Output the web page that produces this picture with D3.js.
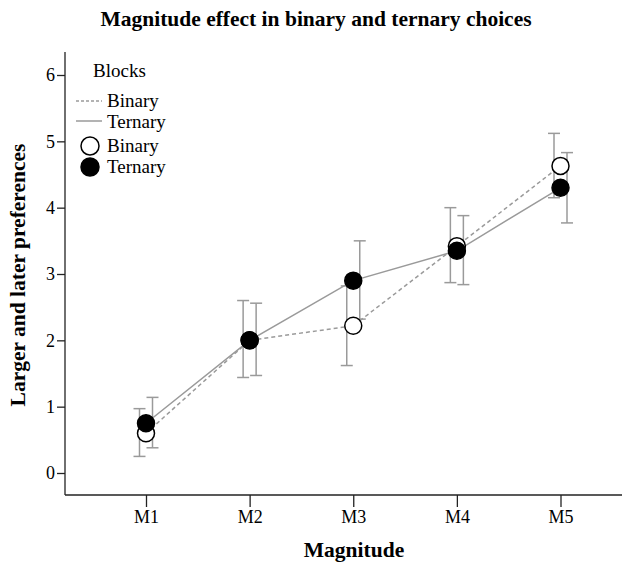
<!DOCTYPE html>
<html>
<head>
<meta charset="utf-8">
<script src="https://cdn.jsdelivr.net/npm/d3@7"></script>
<style>
  body { margin: 0; background: #fff; }
  svg { display: block; font-family: "Liberation Serif", "DejaVu Serif", serif; }
</style>
</head>
<body>
<div id="chart"></div>
<script>
// values
var categories = ['M1', 'M2', 'M3', 'M4', 'M5'];
var binaryMean = [0.60, 2.00, 2.22, 3.42, 4.63];
var binaryLow = [0.25, 1.44, 1.62, 2.87, 4.15];
var binaryHigh = [0.97, 2.60, 2.82, 4.00, 5.12];
var ternaryMean = [0.75, 2.00, 2.90, 3.35, 4.30];
var ternaryLow = [0.38, 1.47, 2.32, 2.84, 3.77];
var ternaryHigh = [1.14, 2.56, 3.50, 3.88, 4.83];
var yTicks = [0, 1, 2, 3, 4, 5, 6];

var W = 635, H = 565;
var GREY = '#9a9a9a';
var plot = { left: 65, right: 622, top: 52, bottom: 495 };

var svg = d3.select('#chart').append('svg').attr('width', W).attr('height', H);

var x = d3.scalePoint().domain(categories).range([146, 560.5]);
var y = d3.scaleLinear().domain([0, 6]).range([473, 75]);

// axes
svg.append('g')
  .attr('transform', 'translate(0,' + plot.bottom + ')')
  .call(d3.axisBottom(x).tickSize(12).tickPadding(3).tickSizeOuter(0))
  .call(function (g) { g.select('.domain').remove(); })
  .selectAll('text').attr('font-size', 18).attr('font-family', 'Liberation Serif').attr('fill', '#000');

svg.append('g')
  .attr('transform', 'translate(' + plot.left + ',0)')
  .call(d3.axisLeft(y).tickValues(yTicks).tickFormat(d3.format('d')).tickSize(8).tickPadding(2))
  .call(function (g) { g.select('.domain').remove(); })
  .selectAll('text').attr('font-size', 18).attr('font-family', 'Liberation Serif').attr('fill', '#000');

svg.selectAll('.tick line').attr('stroke', '#222').attr('stroke-width', 1.3);

svg.append('line').attr('x1', plot.left).attr('x2', plot.left)
  .attr('y1', plot.top).attr('y2', plot.bottom).attr('stroke', '#222').attr('stroke-width', 1.3);
svg.append('line').attr('x1', plot.left).attr('x2', plot.right)
  .attr('y1', plot.bottom).attr('y2', plot.bottom).attr('stroke', '#222').attr('stroke-width', 1.3);

// series
var series = [
  { name: 'Binary', mean: binaryMean, low: binaryLow, high: binaryHigh, dx: -6.5, dash: '4,3', fill: '#fff' },
  { name: 'Ternary', mean: ternaryMean, low: ternaryLow, high: ternaryHigh, dx: 6.5, dash: null, fill: '#000' }
];

// error bars
series.forEach(function (s) {
  var g = svg.append('g').attr('stroke', GREY).attr('stroke-width', 1.5);
  categories.forEach(function (c, i) {
    var cx = x(c) + s.dx;
    g.append('line').attr('x1', cx).attr('x2', cx).attr('y1', y(s.low[i])).attr('y2', y(s.high[i]));
    g.append('line').attr('x1', cx - 6).attr('x2', cx + 6).attr('y1', y(s.low[i])).attr('y2', y(s.low[i]));
    g.append('line').attr('x1', cx - 6).attr('x2', cx + 6).attr('y1', y(s.high[i])).attr('y2', y(s.high[i]));
  });
});

// lines
var line = d3.line().x(function (d, i) { return x(categories[i]); }).y(function (d) { return y(d); });
series.forEach(function (s) {
  svg.append('path').datum(s.mean).attr('d', line)
    .attr('fill', 'none').attr('stroke', GREY).attr('stroke-width', 1.5)
    .attr('stroke-dasharray', s.dash);
});

// markers
series.forEach(function (s) {
  svg.append('g').selectAll('circle').data(s.mean).enter().append('circle')
    .attr('cx', function (d, i) { return x(categories[i]); })
    .attr('cy', function (d) { return y(d); })
    .attr('r', 8.5)
    .attr('fill', s.fill).attr('stroke', '#000').attr('stroke-width', 1.5);
});

// titles
svg.append('text').attr('x', 316).attr('y', 26).attr('text-anchor', 'middle')
  .attr('font-size', 21.5).attr('font-weight', 'bold').text('Magnitude effect in binary and ternary choices');
svg.append('text').attr('x', 354).attr('y', 557).attr('text-anchor', 'middle')
  .attr('font-size', 21.5).attr('font-weight', 'bold').text('Magnitude');
svg.append('text').attr('transform', 'translate(25,' + 275 + ') rotate(-90)').attr('text-anchor', 'middle')
  .attr('font-size', 21.5).attr('font-weight', 'bold').text('Larger and later preferences');

// legend
var lg = svg.append('g').attr('font-size', 19);
lg.append('text').attr('x', 93).attr('y', 77).text('Blocks');
lg.append('line').attr('x1', 76).attr('x2', 102).attr('y1', 101).attr('y2', 101)
  .attr('stroke', GREY).attr('stroke-width', 1.5).attr('stroke-dasharray', '3,2');
lg.append('text').attr('x', 107).attr('y', 107).text('Binary');
lg.append('line').attr('x1', 76).attr('x2', 102).attr('y1', 121).attr('y2', 121)
  .attr('stroke', GREY).attr('stroke-width', 1.5);
lg.append('text').attr('x', 107).attr('y', 128).text('Ternary');
lg.append('circle').attr('cx', 90).attr('cy', 146).attr('r', 9).attr('fill', '#fff').attr('stroke', '#000').attr('stroke-width', 1.5);
lg.append('text').attr('x', 107).attr('y', 152).text('Binary');
lg.append('circle').attr('cx', 90).attr('cy', 167).attr('r', 9).attr('fill', '#000').attr('stroke', '#000').attr('stroke-width', 1.5);
lg.append('text').attr('x', 107).attr('y', 173).text('Ternary');
</script>
</body>
</html>
